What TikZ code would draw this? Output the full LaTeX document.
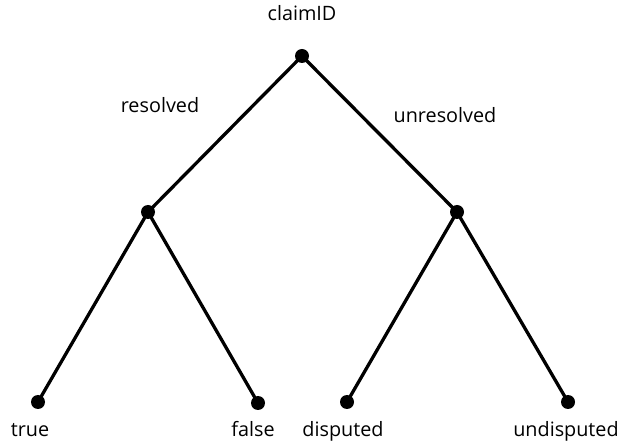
\documentclass[tikz,border=0pt]{standalone}
\usepackage{fontspec}
\setmainfont{Open Sans}
\begin{document}
\begin{tikzpicture}[x=1pt,y=-1pt,
  dot/.style={circle,fill=black,inner sep=0pt,minimum size=14pt},
  edge/.style={line width=3.3pt},
  lbl/.style={font=\fontsize{19.8}{22}\selectfont,inner sep=0pt,anchor=base}]
\useasboundingbox (0,0) rectangle (619,446);
\node[dot] (r) at (302,56) {};
\node[dot] (a) at (148,212) {};
\node[dot] (b) at (457,212) {};
\node[dot] (t) at (38,402) {};
\node[dot] (f) at (258,403) {};
\node[dot] (d) at (347,402) {};
\node[dot] (u) at (568,402) {};
\draw[edge] (r.center) -- (a.center) (r.center) -- (b.center);
\draw[edge] (a.center) -- (t.center) (a.center) -- (f.center);
\draw[edge] (b.center) -- (d.center) (b.center) -- (u.center);
\node[lbl] (lr) at (302,21) {claimID};
\node[lbl] (l1) at (160,113) {resolved};
\node[lbl] (l2) at (445,123) {unresolved};
\node[lbl] (lt) at (30,437) {true};
\node[lbl] (lf) at (253,437) {false};
\node[lbl] (ld) at (343,437) {disputed};
\node[lbl] (lu) at (566,437) {undisputed};
\end{tikzpicture}
\end{document}
